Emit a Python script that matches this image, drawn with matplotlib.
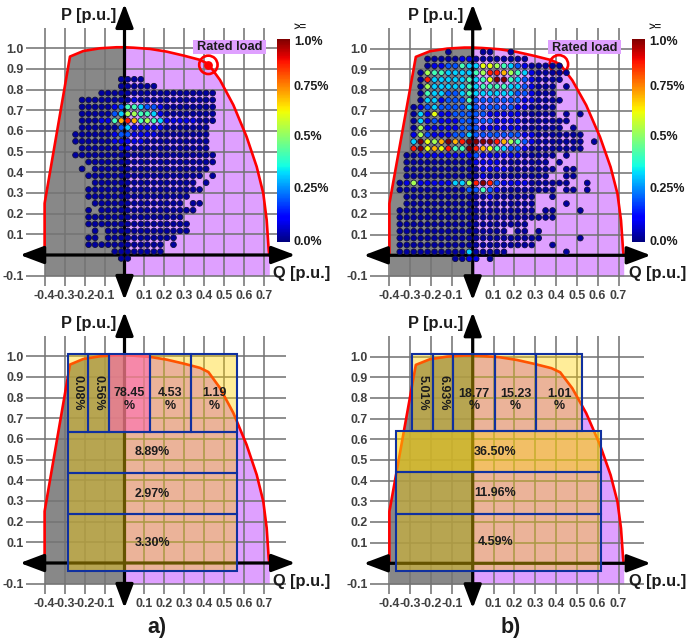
import numpy as np
import matplotlib
matplotlib.use('Agg')
import matplotlib.pyplot as plt
from matplotlib.cm import ScalarMappable
from matplotlib.colors import Normalize, to_rgba
from matplotlib.patches import Rectangle

plt.rcParams['font.family'] = ['Liberation Sans', 'DejaVu Sans']
plt.rcParams['font.weight'] = 'bold'

# capability curve, same for all four panels
cap_q = [-0.4, -0.4, -0.273, -0.206, -0.123, -0.04, 0.0, 0.044, 0.128, 0.211, 0.295, 0.378, 0.42,
         0.478, 0.545, 0.611, 0.662, 0.695, 0.712, 0.722, 0.725]
cap_p = [0.0, 0.25, 0.96, 0.987, 1.0, 1.005, 1.005, 1.003, 0.997, 0.984, 0.965, 0.944, 0.924,
         0.847, 0.726, 0.573, 0.427, 0.298, 0.169, 0.024, 0.0]

x_ticks = [-0.4, -0.3, -0.2, -0.1, 0, 0.1, 0.2, 0.3, 0.4, 0.5, 0.6, 0.7]
x_labels = ['-0.4', '-0.3', '-0.2', '-0.1', '', '0.1', '0.2', '0.3', '0.4', '0.5', '0.6', '0.7']
y_ticks = [-0.1, 0, 0.1, 0.2, 0.3, 0.4, 0.5, 0.6, 0.7, 0.8, 0.9, 1.0]
y_labels = ['-0.1', '', '0.1', '0.2', '0.3', '0.4', '0.5', '0.6', '0.7', '0.8', '0.9', '1.0']

# value (percent) of each letter used in the dot maps
levels = {'1': 0.03, '2': 0.09, '3': 0.21, '4': 0.33, '5': 0.43, '6': 0.55,
          '7': 0.63, '8': 0.72, '9': 0.88, 'X': 1.0}

# dot map a), first char is column -8, rows from 25 down to -1
map_a = [
    ".......1111",
    ".......111111",
    "...." + "1" * 18,
    "." + "1" * 8 + "2" + "1" * 12,
    "." + "11111" + "2" + "3" + "5" + "5" + "4" + "3" + "3" + "2" + "1" * 8,
    "." + "11111" + "3" + "4" + "6" + "6" + "5" + "5" + "4" + "2" + "1" * 8,
    "." + "111" + "22" + "58985654" + "22222" + "111",
    "." + "111111" + "34" + "22222" + "1" * 7,
    "111111" + "2" + "33" + "2222" + "1" * 8,
    "1111112" + "22" + "22" + "1" * 10,
    "." + "111111" + "22" + "1" * 12,
    "1" * 22,
    ".." + "1" * 20,
    ".1." + "1" * 18,
    ".." + "1" * 18 + ".1",
    "..." + "1" * 16 + ".1",
    ".." + "1" * 18,
    ".." + "1" * 16,
    "..." + "1" * 14 + ".11",
    "..1." + "1" * 15,
    ".." + "1" * 15,
    ".." + "1" * 16,
    "...1." + "1" * 13,
    "..11." + "1" * 11,
    ".." + "1" * 12 + ".1",
    "......" + "1" * 8,
    ".......11",
]

# dot map b), first char is column -11, rows from 29 down to -1
map_b = [
    ".......1....11..1",
    "....111112211111111",
    "....12233544776543211111",
    "...1655444456998654211111",
    "...19444" + "44545" + "7XX54" + "32111" + "1",
    "...16444" + "44545" + "55544" + "32111" + ".1",
    "...15443" + "34544" + "44443" + "32111",
    "...14423" + "33533" + "33333" + "22111" + "1",
    "..12343" + "33343" + "33333" + "22111" + "1",
    "..14272" + "23333" + "32222" + "21111" + "1.1.1",
    "..14232" + "22333" + "33222" + "21111" + "111",
    "..16222" + "22333" + "22222" + "21111" + "11.1",
    "..26322" + "23343" + "33333" + "32211" + "11111",
    "..4X768" + "X89XX" + "XX986" + "53211" + "11111" + ".1",
    "..9X787" + "955X9" + "87543" + "32111" + "11111",
    ".11222" + "22222" + "32222" + "22111" + "11.1",
    ".11111" + "11111" + "22221" + "11111" + "1.1",
    ".11111" + "11111" + "12222" + "11111" + "11.11",
    ".11111" + "11111" + "12111" + "11111" + "1..11",
    "12622" + "22244" + "69X93" + "22221" + "11111" + "..1",
    "11111" + "11111" + "33532" + "11111" + "111.1" + "1.1",
    ".11111" + "11111" + "11211" + "1111" + "..1",
    ".11111" + "11111" + "11111" + "1111" + "....1",
    "1" * 20 + ".11...1",
    "1" * 23,
    "1" * 19,
    "1" * 16 + ".11.1",
    "1" * 21 + ".....1",
    "1" * 20 + "..1",
    "1" * 10 + "4" + "1" * 5 + "........1",
    "........1122.1",
]

# load boxes, lower panels
a_top_q = [-0.285, -0.185, -0.08, 0.126, 0.335, 0.565]
a_top_pct = [0.08, 0.56, 78.45, 4.53, 1.19]
a_low_q = [-0.285, 0.565]
a_low_p = [0.635, 0.435, 0.235, -0.037]
a_low_pct = [8.89, 2.97, 3.30]

b_top_q = [-0.29, -0.19, -0.093, 0.107, 0.306, 0.525]
b_top_pct = [5.01, 6.93, 18.77, 15.23, 1.01]
b_low_q = [-0.368, 0.616]
b_low_p = [0.639, 0.44, 0.239, -0.035]
b_low_pct = [36.50, 11.96, 4.59]

box_top_p = 1.012

W, H = 686, 641
GREY = '#888888'
LILAC = '#dfa0ff'
BLUE = '#10309f'
TEXT = '#1c1c1c'
TICK = '#404040'

fig = plt.figure(figsize=(W / 100, H / 100), dpi=100)


def make_axes(x0, y0, sx, sy, right):
    # x0,y0 = pixel of (0,0), sx,sy = pixels per 1 p.u.
    xmin, xmax = -0.493, right
    ymin, ymax = -0.15, 1.098
    ax = fig.add_axes([(x0 + xmin * sx) / W, 1 - (y0 - ymin * sy) / H,
                       (xmax - xmin) * sx / W, (ymax - ymin) * sy / H])
    ax.set_xlim(xmin, xmax)
    ax.set_ylim(ymin, ymax)
    ax.set_xticks(x_ticks)
    ax.set_xticklabels(x_labels)
    ax.set_yticks(y_ticks)
    ax.set_yticklabels(y_labels)
    ax.tick_params(length=0, labelsize=8.9, labelcolor=TICK, pad=3)
    ax.tick_params(axis='y', pad=1.5)
    ax.patch.set_visible(False)
    for s in ax.spines.values():
        s.set_visible(False)
    ax.set_axisbelow(False)
    ax.grid(color='#747474', lw=1.15)

    q = np.array(cap_q)
    p = np.array(cap_p)
    ax.fill_between(q, -0.1, p, where=q <= 0, color=GREY, lw=0, zorder=1)
    ax.fill_between(q, -0.1, p, where=q >= 0, color=LILAC, lw=0, zorder=1)
    ax.plot(q, p, color='#ff0000', lw=1.9, zorder=3, solid_joinstyle='round')

    arrow = dict(arrowstyle='<|-|>,head_length=0.85,head_width=0.32', color='black', lw=2.3,
                 mutation_scale=17, shrinkA=0, shrinkB=0)
    ax.annotate('', xy=(0.855, 0), xytext=(-0.523, 0), arrowprops=arrow, zorder=4, annotation_clip=False)
    ax.annotate('', xy=(0, 1.215), xytext=(0, -0.218), arrowprops=arrow, zorder=4, annotation_clip=False)

    ax.text(-0.178, 1.16, 'P [p.u.]', fontsize=11.8, color=TEXT, ha='center', va='center', clip_on=False)
    ax.text(0.888, -0.088, 'Q [p.u.]', fontsize=11.8, color=TEXT, ha='center', va='center', clip_on=False,
            zorder=8)
    return ax


def draw_dots(ax, rows, first_row, first_col, step):
    qs, ps, vs = [], [], []
    for r, line in enumerate(rows):
        for c, ch in enumerate(line):
            if ch == '.':
                continue
            qs.append((first_col + c + 0.5) * step)
            ps.append((first_row - r + 0.5) / 30)
            vs.append(levels[ch])
    ax.scatter(qs, ps, c=vs, cmap='jet', vmin=0, vmax=1, s=17, edgecolors='#14143c', linewidths=0.6,
               zorder=5, clip_on=False)


def draw_rated(ax, q, p, box_q0, box_q1, dot):
    ax.add_patch(Rectangle((box_q0, 0.973), box_q1 - box_q0, 0.067, facecolor=LILAC, edgecolor='none', zorder=3.2))
    ax.scatter([q], [p], s=175, facecolors='none', edgecolors='#ff0000', linewidths=1.9, zorder=3.5)
    if dot:
        ax.scatter([q], [p], s=28, color='#ff0000', zorder=3.5)
    ax.text((box_q0 + box_q1) / 2, 1.005, 'Rated load', fontsize=9.2, color=TEXT, ha='center', va='center',
            zorder=7)


def draw_colorbar(left, right):
    cax = fig.add_axes([left / W, 1 - 242 / H, (right - left) / W, 203 / H])
    cb = fig.colorbar(ScalarMappable(Normalize(0, 1), 'jet'), cax=cax)
    cax.set_yticks([])
    cb.outline.set_visible(False)
    tx = right + 4
    for y, s in zip([42, 86.7, 137.3, 189.3, 242.3], ['1.0%', '0.75%', '0.5%', '0.25%', '0.0%']):
        fig.text(tx / W, 1 - y / H, s, fontsize=9, color=TEXT, va='center', ha='left')
    fig.text((tx + 6.5) / W, 1 - 28 / H, '>=', fontsize=8, color=TEXT, va='center', ha='center')


def box_style(v):
    if v > 50:
        return to_rgba('#ff808d', 0.75)
    if v > 30:
        return to_rgba('#ffd500', 0.6)
    return to_rgba('#ffd200', 0.4)


def add_box(ax, q0, q1, p0, p1, v):
    ax.add_patch(Rectangle((q0, p0), q1 - q0, p1 - p0, facecolor=box_style(v), edgecolor='none', zorder=6))
    ax.add_patch(Rectangle((q0, p0), q1 - q0, p1 - p0, facecolor='none', edgecolor=BLUE, lw=1.5, zorder=6.5))


def draw_boxes(ax, top_q, top_pct, low_q, low_p, low_pct, shift=0.0):
    for i, v in enumerate(top_pct):
        q0, q1 = top_q[i], top_q[i + 1]
        add_box(ax, q0, q1, low_p[0], box_top_p, v)
        if q1 - q0 < 0.13:
            ax.text((q0 + q1) / 2, 0.824, f'{v:.2f}%', rotation=-90, fontsize=9, color=TEXT,
                    ha='center', va='center', zorder=7)
        else:
            ax.text((q0 + q1) / 2, 0.79, f'{v:.2f}\n%', fontsize=9, color=TEXT, linespacing=1.1,
                    ha='center', va='center', zorder=7)
    for i, v in enumerate(low_pct):
        p1, p0 = low_p[i], low_p[i + 1]
        add_box(ax, low_q[0], low_q[1], p0, p1, v)
        ax.text((low_q[0] + low_q[1]) / 2 + shift, (p0 + p1) / 2, f'{v:.2f}%', fontsize=9, color=TEXT,
                ha='center', va='center', zorder=7)


# top left
ax = make_axes(124.5, 255.0, 199.7, 206.7, 0.764)
draw_dots(ax, map_a, 25, -8, 0.0327)
draw_rated(ax, 0.42, 0.92, 0.345, 0.707, True)
draw_colorbar(277, 290)

# top right
ax = make_axes(472.7, 255.3, 208.3, 206.7, 0.766)
draw_dots(ax, map_b, 29, -11, 1 / 30)
draw_rated(ax, 0.414, 0.924, 0.362, 0.71, False)
draw_colorbar(632, 645)

# bottom left
ax = make_axes(124.5, 563.0, 199.7, 206.7, 0.81)
draw_boxes(ax, a_top_q, a_top_pct, a_low_q, a_low_p, a_low_pct)

# bottom right
ax = make_axes(472.7, 563.3, 208.3, 206.7, 0.82)
draw_boxes(ax, b_top_q, b_top_pct, b_low_q, b_low_p, b_low_pct, shift=-0.015)

fig.text(157 / W, 1 - 627 / H, 'a)', fontsize=15.5, color=TEXT, ha='center', va='center')
fig.text(510.7 / W, 1 - 627 / H, 'b)', fontsize=15.5, color=TEXT, ha='center', va='center')

fig.savefig('out.png', dpi=100)
